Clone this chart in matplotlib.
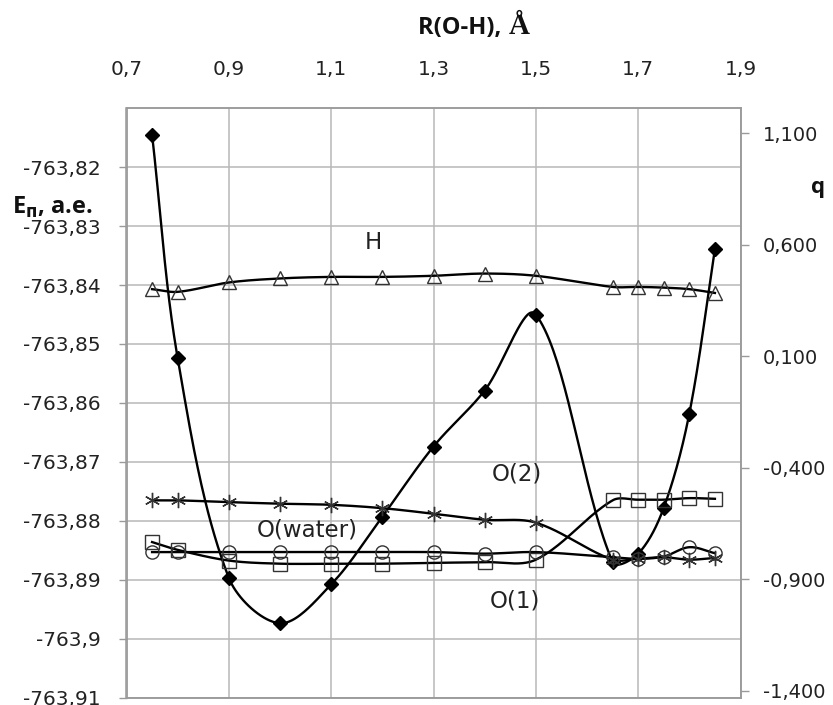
import numpy as np
import matplotlib
matplotlib.use("Agg")
import matplotlib.pyplot as plt

# ---------------- data ----------------
r_oh = [0.75, 0.8, 0.9, 1.0, 1.1, 1.2, 1.3, 1.4, 1.5, 1.65, 1.7, 1.75, 1.8, 1.85]

energy = [-763.8145, -763.8524, -763.8897, -763.8974, -763.8908, -763.8793, -763.8674,
          -763.8579, -763.8450, -763.8870, -763.8856, -763.8778, -763.8618, -763.8339]

q_h = [0.400, 0.388, 0.430, 0.448, 0.455, 0.455, 0.460, 0.470, 0.460, 0.410, 0.410,
       0.407, 0.400, 0.383]
q_star = [-0.547, -0.547, -0.555, -0.562, -0.567, -0.582, -0.607, -0.634, -0.647,
          -0.813, -0.809, -0.802, -0.813, -0.805]
q_circle = [-0.779, -0.779, -0.779, -0.779, -0.779, -0.779, -0.779, -0.786, -0.779,
            -0.802, -0.809, -0.799, -0.757, -0.784]
q_square = [-0.734, -0.769, -0.817, -0.831, -0.831, -0.831, -0.827, -0.824, -0.813,
            -0.547, -0.544, -0.544, -0.537, -0.540]

x_ticks = [0.7, 0.9, 1.1, 1.3, 1.5, 1.7, 1.9]
e_ticks = [-763.91, -763.90, -763.89, -763.88, -763.87, -763.86, -763.85, -763.84,
           -763.83, -763.82]
q_ticks = [-1.4, -0.9, -0.4, 0.1, 0.6, 1.1]

labels = ["H", "O(water)", "O(2)", "O(1)"]
label_x = [1.182, 1.053, 1.463, 1.460]
label_y = [-763.8327, -763.8815, -763.8720, -763.8937]


def excel_smooth(axis, x, y, n=40):
    """Bezier smoothing in screen space, control arms scaled by segment lengths."""
    pts = axis.transData.transform(np.column_stack([x, y]))
    p = np.vstack([pts[:1], pts, pts[-1:]])
    t = np.linspace(0, 1, n)[:, None]
    out = []
    for k in range(len(pts) - 1):
        p0, p1, p2, p3 = p[k], p[k + 1], p[k + 2], p[k + 3]
        d01 = np.hypot(*(p1 - p0))
        d12 = np.hypot(*(p2 - p1))
        d23 = np.hypot(*(p3 - p2))
        f1 = d12 / (d01 + d12) / 3.0 if d01 + d12 > 0 else 0
        f2 = d12 / (d12 + d23) / 3.0 if d12 + d23 > 0 else 0
        c1 = p1 + (p2 - p0) * f1
        c2 = p2 - (p3 - p1) * f2
        b = (1 - t) ** 3 * p1 + 3 * (1 - t) ** 2 * t * c1 \
            + 3 * (1 - t) * t ** 2 * c2 + t ** 3 * p2
        out.append(b)
    out = np.vstack(out)
    d = axis.transData.inverted().transform(out)
    return d[:, 0], d[:, 1]


plt.rcParams['font.family'] = ['DejaVu Sans']

W, H = 833, 705
fig = plt.figure(figsize=(W / 100, H / 100), dpi=100)
L, R, T, B = 126.5, 740.5, 108.3, 697.5
ax = fig.add_axes([L / W, 1 - B / H, (R - L) / W, (B - T) / H])
ax2 = ax.twinx()

grid_c = '#b8b8b8'
spine_c = '#9a9a9a'
tick_fs = 14.5

ax.set_xlim(0.7, 1.9)
ax.set_ylim(-763.91, -763.81)
ax.set_xticks(x_ticks)
ax.set_yticks(e_ticks)
ax.xaxis.tick_top()
ax.set_xticklabels([f"{v:.1f}".replace('.', ',') for v in x_ticks])


def efmt(v):
    s = f"{v:.2f}".rstrip('0').rstrip('.')
    return s.replace('.', ',')


ax.set_yticklabels([efmt(v) for v in e_ticks])
ax.grid(True, color=grid_c, lw=1.1)
ax.set_axisbelow(True)
ax.tick_params(axis='x', which='both', length=0, pad=21, labelsize=tick_fs,
               colors='#222222')
ax.tick_params(axis='y', which='both', length=6, width=1, color=spine_c, pad=12.5,
               labelsize=tick_fs, labelcolor='#222222')

ax2.set_ylim(-1.431, 1.211)
ax2.set_yticks(q_ticks)
ax2.set_yticklabels([f"{v:.3f}".replace('.', ',') for v in q_ticks])
ax2.tick_params(axis='y', length=6, width=1, color=spine_c, pad=10,
                labelsize=14, labelcolor='#222222')

for a in (ax, ax2):
    for s in a.spines.values():
        s.set_color(spine_c)
        s.set_linewidth(1.1)

lw = 1.7
# energy (left axis)
sx, sy = excel_smooth(ax, r_oh, energy)
ax.plot(sx, sy, color='black', lw=lw, zorder=3)
ax.plot(r_oh, energy, ls='none', marker='D', ms=7.5, mfc='black', mec='black',
        zorder=4)

# charges (right axis)
series = [
    (q_h, '^', 10),
    (q_star, (6, 2, 0), 11),
    (q_circle, 'o', 9.5),
    (q_square, 's', 9.5),
]
for vals, mk, ms in series:
    sx, sy = excel_smooth(ax2, r_oh, vals)
    ax2.plot(sx, sy, color='black', lw=lw, zorder=3)
for vals, mk, ms in series:
    ax2.plot(r_oh, vals, ls='none', marker=mk, ms=ms, mfc='none', mec='#333333',
             mew=1.0, zorder=4)

for txt, lx, ly in zip(labels, label_x, label_y):
    ax.text(lx, ly, txt, fontsize=16.5, color='#222222', ha='center', va='center',
            zorder=6)

# axis titles
fig.text(507 / W, 1 - 28 / H, "R(O-H), ", fontsize=17, fontweight='bold',
         family='Open Sans', ha='right', va='center', color='#111111')
fig.text(509 / W, 1 - 27 / H, "Å", fontsize=21, fontweight='bold',
         family='Liberation Serif', ha='left', va='center', color='#111111')
fig.text(818 / W, 1 - 187 / H, "q", fontsize=16, fontweight='bold',
         family='Open Sans', ha='center', va='center', color='#111111')
fig.text(12 / W, 1 - 207 / H, r"E$_{\mathbf{п}}$, а.е.", fontsize=17,
         fontweight='bold', family='Open Sans', ha='left', va='center',
         color='#111111')

fig.savefig("out.png", dpi=100)
